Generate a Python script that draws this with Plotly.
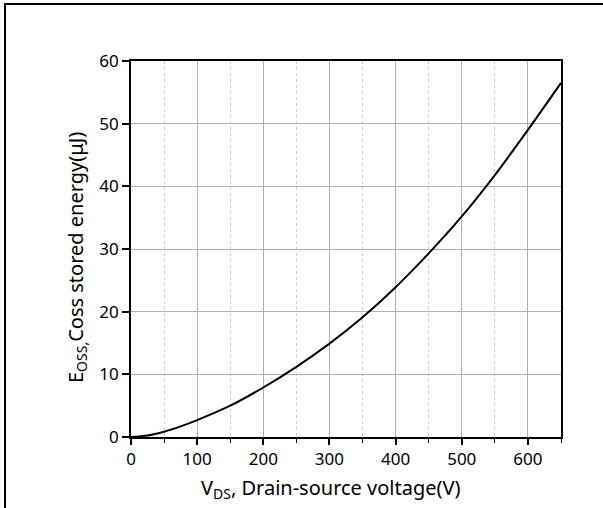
import plotly.graph_objects as go

vds = [0, 25, 50, 75, 100, 150, 200, 250, 300, 350, 400, 450, 500, 550, 600, 650]
eoss = [0, 0.25, 0.85, 1.7, 2.7, 5.0, 7.9, 11.2, 14.9, 19.1, 23.9, 29.3, 35.2, 41.8, 49.0, 56.5]
x_ticks = [0, 100, 200, 300, 400, 500, 600]
y_ticks = [0, 10, 20, 30, 40, 50, 60]
x_title = "V<sub>DS</sub>, Drain-source voltage(V)"
y_title = "E<sub>OSS,</sub>Coss stored energy(μJ)"

W, H = 603, 508
L, R, T, B = 131, 42, 61, 71
pw, ph = W - L - R, H - T - B

fig = go.Figure()
fig.add_trace(go.Scatter(x=vds, y=eoss, mode="lines",
                         line=dict(color="black", width=2, shape="spline", smoothing=0.8),
                         showlegend=False, hoverinfo="skip"))

font = "Noto Sans, Open Sans, sans-serif"
fig.update_layout(
    width=W, height=H, margin=dict(l=L, r=R, t=T, b=B),
    paper_bgcolor="white", plot_bgcolor="white",
    font=dict(family=font, size=17, color="black"),
    xaxis=dict(range=[0, 650], tickvals=x_ticks, showgrid=True, gridcolor="#b0b0b0", gridwidth=1,
               showline=True, linecolor="black", linewidth=1.6, mirror=True,
               ticks="outside", ticklen=6, tickcolor="black", tickwidth=1.5,
               minor=dict(dtick=50, tick0=0, showgrid=True, gridcolor="#cfcfcf", griddash="dot",
                          gridwidth=1, ticks="outside", ticklen=4, tickcolor="black", tickwidth=1),
               zeroline=False),
    yaxis=dict(range=[0, 60], tickvals=y_ticks, showgrid=True, gridcolor="#b0b0b0", gridwidth=1,
               showline=True, linecolor="black", linewidth=1.6, mirror=True,
               ticks="outside", ticklen=7, tickcolor="black", tickwidth=1.5,
               zeroline=False),
)

# axis titles placed as annotations (reference titles are slightly off-centre)
fig.add_annotation(text=x_title, xref="paper", yref="paper", x=(331 - L) / pw, y=-(472 - (T + ph)) / ph,
                   xanchor="center", yanchor="top", showarrow=False, font=dict(size=20))
fig.add_annotation(text=y_title, xref="paper", yref="paper", x=(76 - L) / pw, y=((T + ph) - 258) / ph,
                   xanchor="center", yanchor="middle", textangle=-90, showarrow=False, font=dict(size=20))

# outer frame (left/top visible, right/bottom run past the picture edge as in the reference)
fig.add_shape(type="rect", xref="paper", yref="paper",
              x0=(5 - L) / pw, x1=(630 - L) / pw,
              y0=-(540 - (T + ph)) / ph, y1=1 + (T - 4) / ph,
              line=dict(color="black", width=2), fillcolor="rgba(0,0,0,0)", layer="above")

fig.write_html("out.html", config={"displayModeBar": False},
               post_script="document.body.style.margin='0';")
